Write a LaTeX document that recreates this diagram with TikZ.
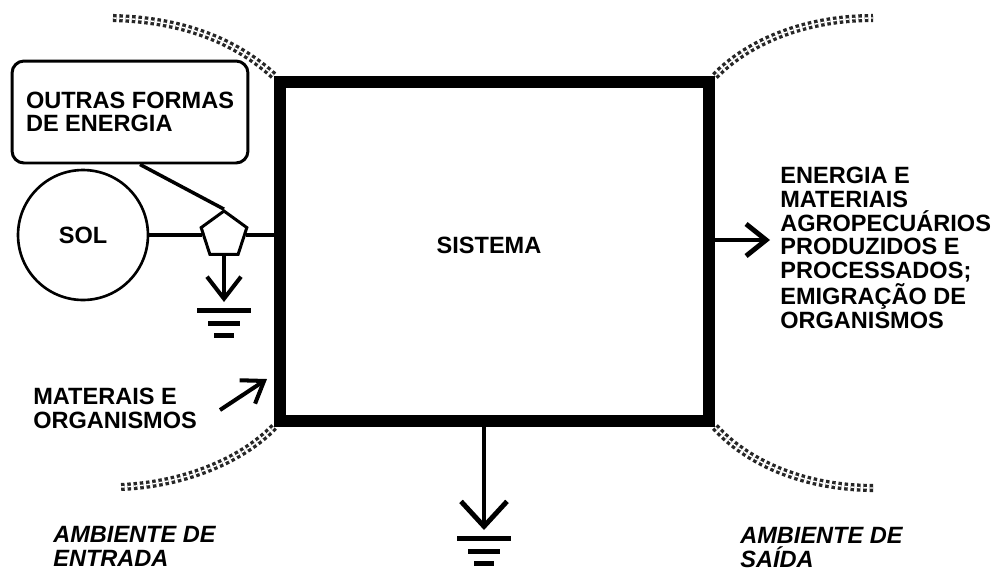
\documentclass[tikz,border=0pt]{standalone}
\usepackage{fontspec}
\setmainfont{Liberation Sans}
\usetikzlibrary{arrows.meta,positioning,shapes.geometric}

\begin{document}
\begin{tikzpicture}[x=0.02cm, y=-0.02cm,
  every node/.style={font=\bfseries\fontsize{13.4pt}{13.4pt}\selectfont},
  rotulo/.style={inner sep=0pt, align=left, anchor=base west},
  ambiente/.style={rotulo, font=\bfseries\itshape\fontsize{13.4pt}{13.2pt}\selectfont},
  fio/.style={line width=2pt, draw=black},
  seta/.style 2 args={-{Straight Barb[length=#1, width=#2]}},
  franja/.style={draw=black!85, line width=1.9pt, double=white, double distance=0.8pt,
    dash pattern=on 2pt off 1.6pt},
  terra/.pic={
    \fill (-27,5.5) rectangle (27,10.5);
    \fill (-16,18.5) rectangle (16,23.5);
    \fill (-10,30.5) rectangle (10,35.5);
  }
]
\useasboundingbox (0,0) rectangle (997,572);
\node[draw, line width=0.24cm, minimum width=8.58cm, minimum height=6.78cm, inner sep=0pt]
  (sistema) at (494.5,251.5) {};
\node (nomesistema) at (489,245) {SISTEMA};
\node[draw, line width=1.7pt, rounded corners=0.24cm, minimum width=4.72cm,
  minimum height=2.04cm, align=left] (outras) at (130,112) {OUTRAS FORMAS\\DE ENERGIA};
\node[circle, draw, line width=1.5pt, minimum size=2.6cm] (sol) at (83,235) {SOL};
\node[regular polygon, regular polygon sides=5, draw, line width=1.7pt,
  minimum size=0.96cm, inner sep=0pt] (fonte) at (224,235) {};
\coordinate (terra1) at (224,302);
\coordinate (terra2) at (484,530);
\coordinate (saidaponta) at (770,240);
\coordinate (entradacauda) at (220,410);
\coordinate (entradaponta) at (267,379);
\draw[fio] (sol) -- (fonte);
\draw[fio] (fonte) -- (fonte -| sistema.west);
\draw[fio] ([xshift=0.2cm]outras.south) -- (fonte.corner 1);
\draw[fio, line width=2.3pt, seta={0.44cm}{0.68cm}] (fonte) -- (terra1);
\pic at (terra1) {terra};
\draw[fio, line width=2.8pt, seta={0.5cm}{0.92cm}] (terra2 |- sistema.south) -- (terra2);
\pic at (terra2) {terra};
\draw[fio, line width=2.8pt, seta={0.4cm}{0.64cm}] (saidaponta -| sistema.east) -- (saidaponta);
\draw[fio, line width=2.3pt, seta={0.4cm}{0.56cm}] (entradacauda) -- (entradaponta);
\node[rotulo] (saida) at (780,328)
  {ENERGIA E\\MATERIAIS\\AGROPECUÁRIOS\\PRODUZIDOS E\\PROCESSADOS;\\EMIGRAÇÃO DE\\ORGANISMOS};
\node[rotulo] (materiais) at (33,428) {MATERAIS E\\ORGANISMOS};
\node[ambiente] (entrada) at (53,566) {AMBIENTE DE\\ENTRADA};
\node[ambiente] (ambsaida) at (740,567) {AMBIENTE DE\\SAÍDA};
\draw[franja] (113,18) .. controls (190,20) and (240,45) .. (sistema.north west);
\draw[franja] (sistema.south west) .. controls (240,462) and (180,485) .. (120,487);
\draw[franja] (sistema.north east) .. controls (745,45) and (800,18) .. (873,18);
\draw[franja] (sistema.south east) .. controls (745,460) and (800,488) .. (875,488);
\end{tikzpicture}
\end{document}
